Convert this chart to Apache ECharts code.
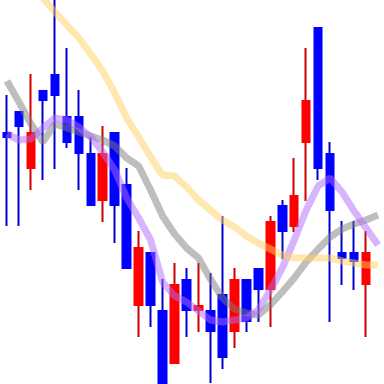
<!DOCTYPE html>
<html>
<head>
<meta charset="utf-8">
<script src="https://cdn.jsdelivr.net/npm/echarts@6/dist/echarts.min.js"></script>
<style>html,body{margin:0;padding:0;background:#fff;}#chart{width:384px;height:384px;}</style>
</head>
<body>
<div id="chart"></div>
<script>
// Categories (trading sessions)
const categories = Array.from({length: 32}, (_, i) => 'D' + (i + 1));
// OHLC values, as [open, close, low, high]
const opens  = [252,273,215,294,310,268,268,231,183,252,200, 78,132, 74, 20,105, 73, 74, 90, 52,105,116, 94,179,157,241,357,231,132,132, 99,142];
const closes = [246,257,252,283,288,241,230,178,231,178,115,137, 78, -6,100, 73, 79, 52, 26,105, 62, 94,163,152,189,284,215,173,125,122,132,142];
const lows   = [158,158,194,204,215,236,194,178,162,141,115, 47, 57, -6, 20, 47, 52,  1, 15, 36, 52, 62, 57,125,152,183,204, 62, 99, 94, 47,142];
const highs  = [289,273,310,294,394,336,294,247,258,252,216,153,132,105,121,116,121,111,168,116,105,116,168,184,226,336,357,242,163,163,153,142];
// Moving-average style lines
const grayLine   = [303,282,260,242,260,256,252,248,244,238,226,218,194,168,150,136,126,105, 86, 75, 71, 69, 79, 92,106,122,135,147,155,160,164,169];
const purpleLine = [250,244,245,256,266,264,257,247,232,214,186,166,144,102, 88, 82, 73, 64, 62, 64, 66, 74, 94,116,144,174,198,206,192,173,156,139];
const yellowLine = [428,414,400,386,372,359,346,330,313,291,266,247,227,209,208,197,184,174,164,157,148,141,135,129,126,126,126,126,123,121,119,119];

const ohlc = opens.map((o, i) => [o, closes[i], lows[i], highs[i]]);

const chart = echarts.init(document.getElementById('chart'), null, {renderer: 'canvas'});
chart.setOption({
  animation: false,
  backgroundColor: '#ffffff',
  grid: {left: 1, right: -1, top: 0, bottom: 0},
  xAxis: {type: 'category', data: categories, show: false, boundaryGap: true},
  yAxis: {type: 'value', min: 0, max: 384, show: false, splitLine: {show: false}},
  series: [
    {
      type: 'candlestick', data: ohlc, barWidth: 1, barMinWidth: 0,
      itemStyle: {color: '#cd0000', color0: '#0000cd', borderColor: '#cd0000', borderColor0: '#0000cd', borderWidth: 2}
    },
    {
      type: 'candlestick', data: ohlc, barWidth: 10,
      itemStyle: {color: '#ff0000', color0: '#0000ff', borderColor: '#ff0000', borderColor0: '#0000ff', borderWidth: 0}
    },
    {type: 'line', data: grayLine, showSymbol: false, lineStyle: {color: '#7d7d7d', width: 7, opacity: 0.5}},
    {type: 'line', data: purpleLine, showSymbol: false, lineStyle: {color: '#b169fd', width: 7, opacity: 0.5}},
    {type: 'line', data: yellowLine, showSymbol: false, lineStyle: {color: '#fdd15f', width: 7, opacity: 0.5}}
  ]
});
</script>
</body>
</html>
